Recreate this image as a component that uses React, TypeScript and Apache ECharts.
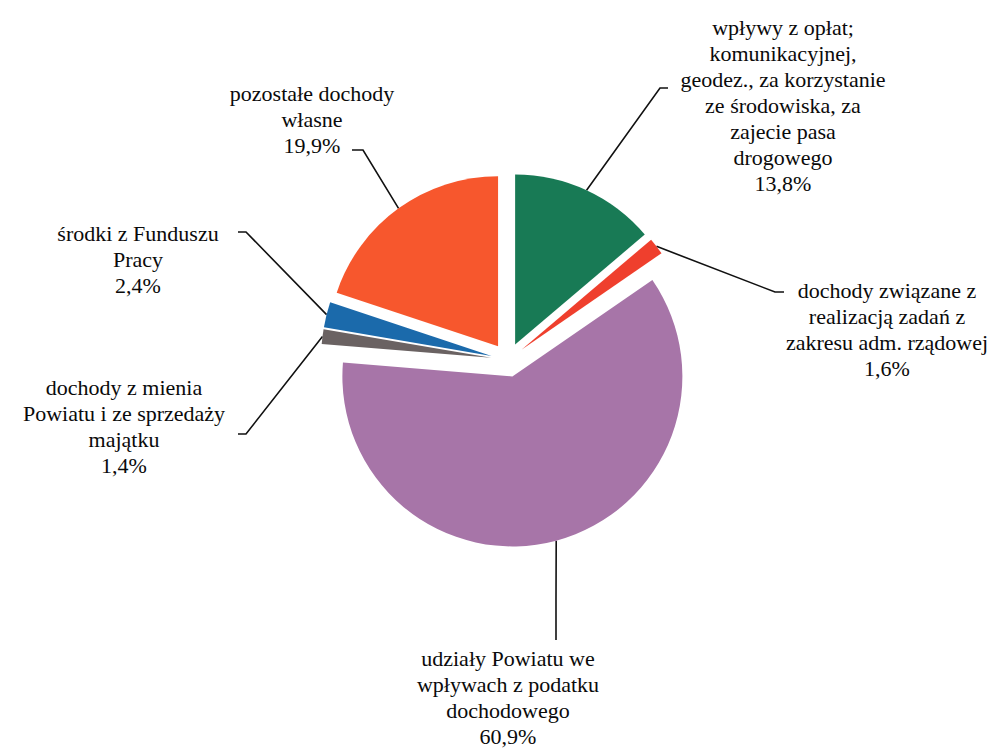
import React, { useEffect, useRef } from "react";
import * as echarts from "echarts";

const categories = [
  "wpływy z opłat;\nkomunikacyjnej,\ngeodez., za korzystanie\nze środowiska, za\nzajecie pasa\ndrogowego",
  "dochody związane z\nrealizacją zadań z\nzakresu adm. rządowej",
  "udziały Powiatu we\nwpływach z podatku\ndochodowego",
  "dochody z mienia\nPowiatu i ze sprzedaży\nmajątku",
  "środki z Funduszu\nPracy",
  "pozostałe dochody\nwłasne",
];
const values = [13.8, 1.6, 60.9, 1.4, 2.4, 19.9];
const colors = ["#187a55", "#ef3f2d", "#a775a8", "#6a6262", "#1b6aab", "#f7572d"];

// label placement (text block centre x, top y) and leader-line bend/end points
const labelAnchors = [
  [783, 14],
  [887, 277],
  [508, 645],
  [124, 374],
  [138, 220],
  [312, 80],
];
const leaderBends = [
  [[660, 88], [668, 88]],
  [[775, 292], [784, 292]],
  [[556, 600], [556, 640]],
  [[246, 434], [238, 434]],
  [[246, 232], [238, 232]],
  [[363, 150], [352, 150]],
];

const CX = 508;
const CY = 360;
const R = 170;
const OFFSET = 17;

export default function App() {
  const ref = useRef<HTMLDivElement>(null);
  useEffect(() => {
    if (!ref.current) return;
    const chart = echarts.init(ref.current, undefined, { renderer: "svg" });
    const total = values.reduce((a, b) => a + b, 0);
    const mids: number[] = [];
    let acc = 0;
    values.forEach((v) => {
      mids.push(((acc + v / 2) / total) * Math.PI * 2);
      acc += v;
    });
    const series = values.map((_, i) => {
      const dx = Math.sin(mids[i]) * OFFSET;
      const dy = -Math.cos(mids[i]) * OFFSET;
      const start = [
        CX + Math.sin(mids[i]) * (R + OFFSET),
        CY - Math.cos(mids[i]) * (R + OFFSET),
      ];
      return {
        type: "pie",
        center: [CX + dx, CY + dy],
        radius: R,
        startAngle: 90,
        clockwise: true,
        silent: true,
        avoidLabelOverlap: false,
        itemStyle: { borderWidth: 0 },
        emphasis: { disabled: true },
        data: values.map((v, j) => ({
          value: v,
          name: categories[j],
          itemStyle: { color: j === i ? colors[j] : "rgba(0,0,0,0)" },
          label: { show: j === i },
          labelLine: { show: j === i },
        })),
        label: {
          color: "#0a0a0a",
          fontFamily: "Liberation Serif",
          fontSize: 22,
          lineHeight: 26,
          align: "center",
          formatter: (p: any) => `${p.name}\n${String(p.value).replace(".", ",")}%`,
        },
        labelLine: {
          lineStyle: { color: "#111111", width: 1.6 },
        },
        labelLayout: (p: any) => {
          const k = p.dataIndex;
          return {
            x: labelAnchors[k][0],
            y: labelAnchors[k][1],
            align: "center",
            verticalAlign: "top",
            labelLinePoints: [start, leaderBends[k][0], leaderBends[k][1]],
          };
        },
      };
    });
    chart.setOption({
      animation: false,
      backgroundColor: "#ffffff",
      series,
    });
    return () => chart.dispose();
  }, []);
  return (
    <div
      ref={ref}
      style={{ position: "absolute", left: 0, top: 0, width: 1000, height: 748 }}
    />
  );
}
